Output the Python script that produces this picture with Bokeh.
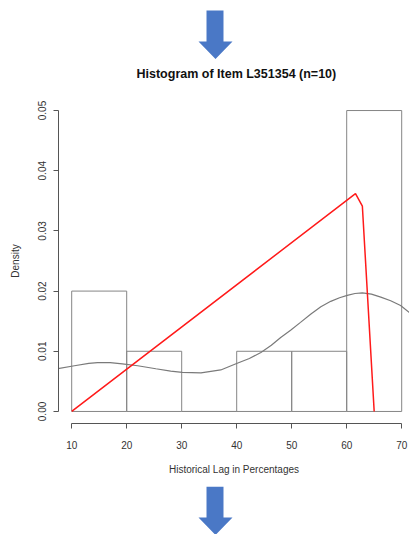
from bokeh.plotting import figure
from bokeh.layouts import column
from bokeh.models import Range1d, FixedTicker, NumeralTickFormatter
from bokeh.core.properties import value
from bokeh.embed import file_html
from bokeh.resources import INLINE

TITLE = "Histogram of Item L351354  (n=10)"

# histogram bins (density)
bin_left = [10, 20, 30, 40, 50, 60]
bin_right = [20, 30, 40, 50, 60, 70]
density = [0.02, 0.01, 0.0, 0.01, 0.01, 0.05]

# red line
red_x = [10, 61.6, 62.85, 65.0]
red_y = [0.0, 0.0362, 0.0341, 0.0]

# gray kernel density curve
kde_x = [7.45, 10.5, 13.1, 14.7, 17.0, 19.2, 22.0, 25.3, 28.0, 30.1, 33.5, 37.1,
         40.1, 42.3, 44.4, 46.3, 48.0, 49.8, 51.6, 53.5, 55.3, 57.1, 58.7, 60.1,
         61.5, 62.85, 64.5, 66.2, 68.0, 69.8, 71.45]
kde_y = [0.0071, 0.0076, 0.0080, 0.0081, 0.0081, 0.0079, 0.0076, 0.0071, 0.0067,
         0.0065, 0.0064, 0.0069, 0.0080, 0.0088, 0.0098, 0.0110, 0.0123, 0.0135,
         0.0148, 0.0162, 0.0174, 0.0183, 0.0189, 0.0193, 0.0196, 0.0197, 0.0195,
         0.0190, 0.0184, 0.0176, 0.0164]

x_ticks = [10, 20, 30, 40, 50, 60, 70]
y_ticks = [0.0, 0.01, 0.02, 0.03, 0.04, 0.05]

FONT = "Liberation Sans"
TXT = "#333333"
ARROW = "#4a78c6"

LEFT = 58
TOP_H = 90
BOT_H = 48
MAIN_H = 534 - TOP_H - BOT_H


def deco_fig(h):
    # frames in a column are aligned with the main plot's frame (left edge at LEFT px)
    f = figure(width=409, height=h, output_backend="svg", toolbar_location=None,
               x_range=Range1d(LEFT, 409), y_range=Range1d(h, 0),
               x_axis_type=None, y_axis_type=None,
               min_border=0, min_border_left=LEFT, min_border_right=0,
               min_border_top=0, min_border_bottom=0)
    f.outline_line_color = None
    f.grid.visible = False
    return f


top_fig = deco_fig(TOP_H)
top_fig.patch([206, 223, 223, 232, 215, 198, 206], [10, 10, 41, 41, 58.5, 41, 41],
              fill_color=ARROW, line_color=None)
top_fig.text(x=[136], y=[73.5], text=[TITLE], text_align="left",
             text_baseline="middle", text_font=value(FONT),
             text_font_size="12.5px", text_font_style="bold", text_color="#111111")

bot_fig = deco_fig(BOT_H)
bot_fig.patch([206, 223, 223, 232, 215, 198, 206], [0, 0, 31, 31, 48.5, 31, 31],
              fill_color=ARROW, line_color=None)

p = figure(width=409, height=MAIN_H, output_backend="svg", toolbar_location=None,
           x_range=Range1d(7.6, 71.42), y_range=Range1d(-0.002, 0.052),
           min_border_left=LEFT, min_border_right=0, min_border_top=98 - TOP_H,
           min_border_bottom=534 - BOT_H - 423)
p.outline_line_color = None
p.grid.visible = False
p.background_fill_color = "white"
p.border_fill_color = "white"

p.quad(left=bin_left, right=bin_right, bottom=0, top=density,
       fill_color=None, line_color="#858585", line_width=1)
p.line(kde_x, kde_y, line_color="#7a7a7a", line_width=1.2)
p.line(red_x, red_y, line_color="#ff1a1a", line_width=1.5)

for ax in (p.xaxis[0], p.yaxis[0]):
    ax.axis_line_color = "#555555"
    ax.major_tick_line_color = "#555555"
    ax.minor_tick_line_color = None
    ax.major_tick_out = 5
    ax.major_tick_in = 0
    ax.major_label_text_font = FONT
    ax.major_label_text_font_size = "10px"
    ax.major_label_text_color = TXT
    ax.axis_label_text_font = FONT
    ax.axis_label_text_font_size = "10px"
    ax.axis_label_text_font_style = "normal"
    ax.axis_label_text_color = TXT

p.xaxis.ticker = FixedTicker(ticks=x_ticks)
p.xaxis.bounds = (10, 70)
p.xaxis.axis_label = "Historical Lag in Percentages"
p.xaxis.major_label_standoff = 12
p.xaxis.axis_label_standoff = 12

p.yaxis.ticker = FixedTicker(ticks=y_ticks)
p.yaxis.bounds = (0, 0.05)
p.yaxis.formatter = NumeralTickFormatter(format="0.00")
p.yaxis.major_label_orientation = "vertical"
p.yaxis.axis_label = "Density"
p.yaxis.major_label_standoff = 7
p.yaxis.axis_label_standoff = 15

layout = column(top_fig, p, bot_fig, spacing=0)
open("out.html", "w").write(file_html(layout, INLINE))
